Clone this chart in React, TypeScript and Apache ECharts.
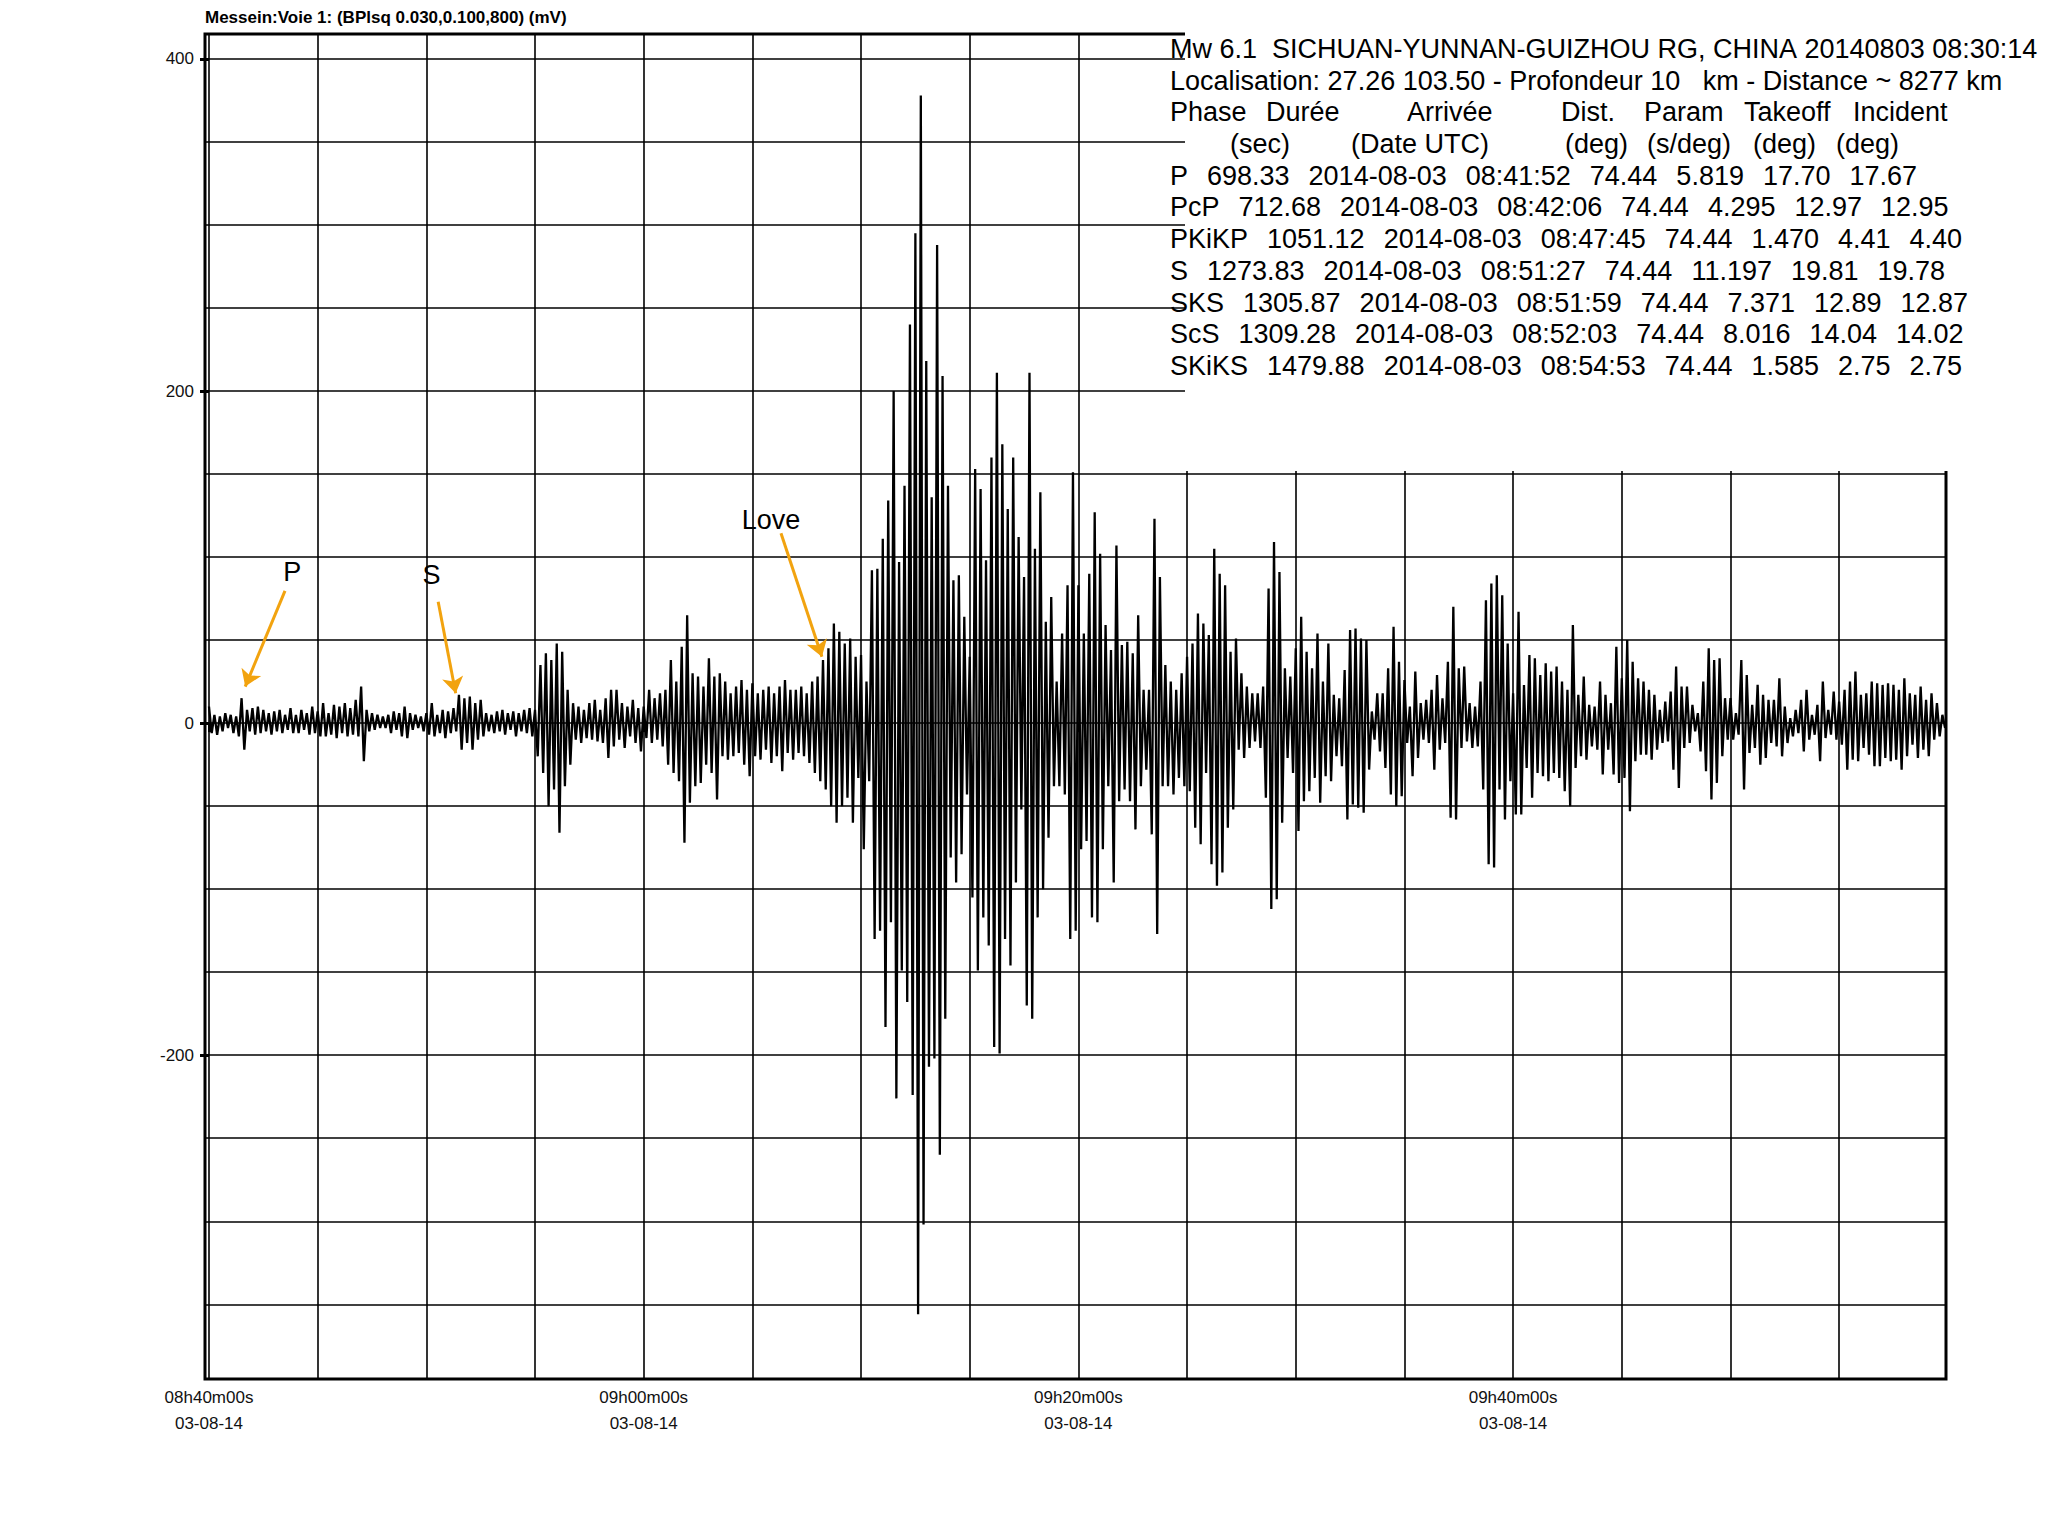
import React, { useEffect, useRef } from 'react';
import * as echarts from 'echarts';

// ---------- data ----------
const TITLE = 'Messein:Voie 1: (BPlsq 0.030,0.100,800) (mV)';

// seconds after 08:40:00 between two samples of the trace
const SAMPLE_STEP_S = 7.5;
// trace amplitude (mV), 8 samples per minute, one row per minute from 08:40
const TRACE = [
  10, -6, 5, -7, 4, -5, 6, -3,
  5, -6, 4, -8, 15, -16, 8, -5,
  9, -7, 10, -6, 8, -5, 6, -7,
  7, -5, 8, -6, 5, -4, 9, -6,
  5, -6, 8, -4, 6, -7, 10, -6,
  7, -8, 12, -8, 6, -7, 11, -9,
  10, -6, 12, -8, 9, -7, 14, -8,
  22, -23, 8, -5, 6, -4, 5, -3,
  4, -3, 5, -6, 7, -4, 6, -8,
  10, -9, 6, -4, 5, -3, 4, -5,
  6, -7, 12, -8, 5, -6, 8, -9,
  7, -6, 9, -5, 17, -16, 15, -12,
  16, -16, 12, -10, 14, -8, 6, -5,
  5, -6, 7, -5, 8, -7, 6, -4,
  7, -8, 6, -5, 8, -6, 9, -8,
  8, -20, 35, -30, 42, -50, 38, -40,
  48, -66, 43, -38, 20, -25, 12, -10,
  10, -12, 8, -9, 12, -10, 14, -11,
  8, -12, 15, -21, 20, -14, 20, -10,
  12, -15, 10, -8, 14, -12, 9, -17,
  10, -9, 20, -12, 15, -10, 18, -14,
  20, -25, 38, -30, 25, -35, 46, -72,
  65, -48, 30, -38, 28, -36, 22, -25,
  39, -30, 28, -46, 30, -20, 25, -22,
  18, -20, 22, -18, 26, -25, 20, -32,
  24, -20, 18, -22, 20, -16, 22, -24,
  18, -20, 22, -29, 26, -18, 20, -22,
  20, -18, 22, -20, 18, -24, 25, -30,
  28, -35, 38, -40, 45, -50, 60, -60,
  55, -50, 48, -45, 51, -60, 40, -33,
  41, -76, 25, -35, 92, -130, 93, -125,
  111, -183, 134, -120, 200, -226, 97, -149,
  143, -168, 240, -224, 295, -356, 378, -302,
  218, -207, 136, -202, 288, -260, 209, -178,
  143, -81, 86, -96, 89, -79, 64, -43,
  40, -105, 153, -149, 141, -117, 98, -134,
  160, -195, 211, -199, 168, -130, 129, -146,
  160, -96, 112, -52, 88, -170, 211, -178,
  105, -117, 139, -100, 61, -69, 76, -38,
  25, -38, 54, -43, 83, -130, 151, -125,
  83, -76, 54, -71, 90, -117, 127, -120,
  102, -76, 59, -38, 44, -96, 107, -47,
  47, -40, 49, -47, 42, -64, 65, -38,
  20, -28, 20, -67, 123, -127, 88, -38,
  35, -38, 25, -43, 20, -33, 30, -38,
  40, -41, 48, -63, 66, -73, 60, -30,
  53, -85, 105, -98, 90, -90, 83, -63,
  43, -52, 51, -16, 30, -21, 22, -15,
  18, -11, 18, -15, 22, -45, 81, -112,
  109, -106, 91, -60, 33, -21, 28, -30,
  45, -65, 64, -47, 43, -41, 33, -33,
  54, -48, 25, -32, 48, -35, 17, -20,
  15, -26, 32, -58, 56, -49, 57, -51,
  51, -54, 50, -28, 7, -10, 18, -17,
  18, -27, 33, -43, 58, -50, 37, -44,
  26, -12, 10, -32, 31, -21, 12, -10,
  14, -12, 20, -28, 29, -16, 15, -12,
  37, -57, 70, -58, 33, -15, 34, -11,
  12, -15, 10, -14, 25, -40, 74, -85,
  84, -87, 89, -40, 77, -58, 48, -35,
  18, -55, 67, -55, 23, -27, 41, -45,
  39, -30, 29, -32, 36, -35, 31, -30,
  34, -33, 25, -41, 20, -50, 59, -27,
  17, -20, 28, -22, 11, -14, 10, -16,
  25, -31, 17, -16, 12, -31, 46, -36,
  27, -33, 50, -53, 37, -23, 27, -19,
  25, -19, 20, -22, 17, -16, 8, -12,
  13, -11, 19, -28, 34, -39, 22, -15,
  22, -12, 11, -5, 6, -17, 25, -29,
  45, -46, 38, -36, 39, -20, 15, -10,
  15, -10, 6, -7, 38, -40, 29, -18,
  11, -15, 23, -25, 17, -21, 14, -12,
  14, -14, 27, -20, 10, -12, 3, -8,
  8, -6, 14, -17, 20, -10, 5, -7,
  11, -23, 25, -9, 8, -7, 19, -10,
  13, -13, 20, -28, 25, -22, 31, -23,
  17, -15, 18, -19, 25, -26, 24, -26,
  23, -21, 24, -23, 23, -22, 20, -28,
  27, -20, 18, -13, 17, -21, 22, -16,
  14, -20, 18, -10, 12, -8, 5, -3,
];

const X_MIN = -11;
const X_MAX = 4795;
const Y_MIN = -395;
const Y_MAX = 415;

const X_TICK_SECONDS = [0, 1200, 2400, 3600];
const X_TICK_LABELS = ['08h40m00s', '09h00m00s', '09h20m00s', '09h40m00s'];
const X_DATE_LABEL = '03-08-14';
const X_GRID_SECONDS = [0, 300, 600, 900, 1200, 1500, 1800, 2100, 2400, 2700, 3000, 3300, 3600, 3900, 4200, 4500];
const Y_TICK_VALUES = [-200, 0, 200, 400];
const Y_GRID_VALUES = [-350, -300, -250, -200, -150, -100, -50, 0, 50, 100, 150, 200, 250, 300, 350, 400];

const PHASE_NAMES = ['P', 'S', 'Love'];
const PHASE_LABEL_AT = [[229.7, 91.2], [614.2, 89.2], [1551.4, 122.3]];
const PHASE_ARROW_FROM = [[209.8, 79.6], [632.7, 73.1], [1579, 114.3]];
const PHASE_ARROW_TO = [[100, 22], [681, 18], [1692, 40]];

const INFO_LINE1 = 'Mw 6.1  SICHUAN-YUNNAN-GUIZHOU RG, CHINA 20140803 08:30:14';
const INFO_LINE2 = 'Localisation: 27.26 103.50 - Profondeur 10   km - Distance ~ 8277 km';
const HEADER1 = ['Phase', 'Durée', 'Arrivée', 'Dist.', 'Param', 'Takeoff', 'Incident'];
const HEADER2 = ['(sec)', '(Date UTC)', '(deg)', '(s/deg)', '(deg)', '(deg)'];
const PHASE_ROWS = [
  ['P', '698.33', '2014-08-03', '08:41:52', '74.44', '5.819', '17.70', '17.67'],
  ['PcP', '712.68', '2014-08-03', '08:42:06', '74.44', '4.295', '12.97', '12.95'],
  ['PKiKP', '1051.12', '2014-08-03', '08:47:45', '74.44', '1.470', '4.41', '4.40'],
  ['S', '1273.83', '2014-08-03', '08:51:27', '74.44', '11.197', '19.81', '19.78'],
  ['SKS', '1305.87', '2014-08-03', '08:51:59', '74.44', '7.371', '12.89', '12.87'],
  ['ScS', '1309.28', '2014-08-03', '08:52:03', '74.44', '8.016', '14.04', '14.02'],
  ['SKiKS', '1479.88', '2014-08-03', '08:54:53', '74.44', '1.585', '2.75', '2.75'],
];

// ---------- layout ----------
const W = 2048;
const H = 1533;
const GRID = { left: 205, top: 34, width: 1741, height: 1345 };
const INFO_X = 1170;
const INFO_BASE0 = 58.3;
const INFO_STEP = 31.7;
const INFO_FS = 27;
const TOKEN_GAP = 19;
const HEADER1_X = [1170, 1266, 1407, 1561, 1644, 1744, 1853];
const HEADER2_X = [1230, 1351, 1565, 1647, 1753, 1836];
const FONT = "'Liberation Sans', Arial, sans-serif";
const ORANGE = '#F2A30F';

const nb = (s: string) => s.replace(/ /g, '\u00a0');

function buildGraphic() {
  const canvas = document.createElement('canvas');
  const ctx = canvas.getContext('2d') as CanvasRenderingContext2D;
  ctx.font = `${INFO_FS}px ${FONT}`;
  const mid = (k: number) => INFO_BASE0 + INFO_STEP * k - 0.3465 * INFO_FS;
  const txt = (x: number, y: number, s: string) => ({
    type: 'text',
    x,
    y,
    z: 51,
    silent: true,
    style: {
      text: nb(s),
      fontSize: INFO_FS,
      fontFamily: FONT,
      fill: '#000',
      align: 'left',
      verticalAlign: 'middle',
    },
  });
  const els: any[] = [
    { type: 'rect', z: 50, silent: true, shape: { x: 1185, y: 0, width: W - 1185, height: 471 }, style: { fill: '#fff' } },
    txt(INFO_X, mid(0), INFO_LINE1),
    txt(INFO_X, mid(1), INFO_LINE2),
  ];
  HEADER1.forEach((s, i) => els.push(txt(HEADER1_X[i], mid(2), s)));
  HEADER2.forEach((s, i) => els.push(txt(HEADER2_X[i], mid(3), s)));
  PHASE_ROWS.forEach((row, r) => {
    let x = INFO_X;
    row.forEach((tok) => {
      els.push(txt(x, mid(4 + r), tok));
      x += ctx.measureText(tok).width + TOKEN_GAP;
    });
  });
  els.push({
    type: 'text',
    x: 205,
    y: 23.3 - 0.3465 * 17,
    z: 51,
    silent: true,
    style: {
      text: TITLE,
      fontSize: 17,
      fontWeight: 'bold',
      fontFamily: FONT,
      fill: '#000',
      align: 'left',
      verticalAlign: 'middle',
    },
  });
  return els;
}

export default function App() {
  const ref = useRef<HTMLDivElement>(null);
  useEffect(() => {
    if (!ref.current) return;
    const chart = echarts.init(ref.current, undefined, { renderer: 'svg' });
    const traceData = TRACE.map((v, i) => [i * SAMPLE_STEP_S, v]);
    const gridLines = [
      ...X_GRID_SECONDS.map((t) => ({ xAxis: t })),
      ...Y_GRID_VALUES.map((v) => ({ yAxis: v })),
    ];
    const option: any = {
      animation: false,
      backgroundColor: '#fff',
      grid: { ...GRID, show: true, borderColor: '#000', borderWidth: 3, backgroundColor: 'transparent', containLabel: false },
      xAxis: {
        type: 'value',
        min: X_MIN,
        max: X_MAX,
        axisLine: { show: false },
        splitLine: { show: false },
        axisTick: { show: true, customValues: X_TICK_SECONDS, length: 9, lineStyle: { color: '#000', width: 3 } },
        axisLabel: {
          customValues: X_TICK_SECONDS,
          margin: 5,
          fontSize: 17,
          fontFamily: FONT,
          color: '#111',
          lineHeight: 26,
          formatter: (val: number) => {
            const i = X_TICK_SECONDS.indexOf(val);
            return i < 0 ? '' : `${X_TICK_LABELS[i]}\n${X_DATE_LABEL}`;
          },
        },
      },
      yAxis: {
        type: 'value',
        min: Y_MIN,
        max: Y_MAX,
        axisLine: { show: false },
        splitLine: { show: false },
        axisTick: { show: true, customValues: Y_TICK_VALUES, length: 9, lineStyle: { color: '#000', width: 3 } },
        axisLabel: {
          customValues: Y_TICK_VALUES,
          margin: 11,
          fontSize: 17,
          fontFamily: FONT,
          color: '#111',
          padding: [0, 0, 8, 0],
        },
      },
      series: [
        {
          type: 'line',
          name: 'grid',
          data: [],
          z: 1,
          silent: true,
          markLine: {
            silent: true,
            animation: false,
            symbol: ['none', 'none'],
            label: { show: false },
            lineStyle: { color: '#000', width: 1.6, type: 'solid' },
            emphasis: { disabled: true },
            data: gridLines,
          },
        },
        {
          type: 'line',
          name: 'trace',
          data: traceData,
          z: 3,
          silent: true,
          showSymbol: false,
          symbol: 'none',
          lineStyle: { color: '#000', width: 2.3 },
        },
        {
          type: 'scatter',
          name: 'phases',
          z: 4,
          silent: true,
          symbolSize: 0,
          itemStyle: { opacity: 1, color: 'transparent' },
          data: PHASE_LABEL_AT.map((p, i) => ({ value: p, name: PHASE_NAMES[i] })),
          label: {
            show: true,
            position: 'inside',
            formatter: (p: any) => p.name,
            fontSize: 27,
            fontFamily: FONT,
            color: '#000',
            opacity: 1,
            textBorderWidth: 0,
            textBorderColor: 'transparent',
          },
          markLine: {
            silent: true,
            animation: false,
            symbol: ['none', 'arrow'],
            symbolSize: 16,
            label: { show: false },
            lineStyle: { color: ORANGE, width: 3, type: 'solid', opacity: 1 },
            itemStyle: { color: ORANGE },
            emphasis: { disabled: true },
            data: PHASE_ARROW_FROM.map((f, i) => [{ coord: f }, { coord: PHASE_ARROW_TO[i] }]),
          },
        },
      ],
      graphic: buildGraphic(),
    };
    chart.setOption(option);
    return () => chart.dispose();
  }, []);
  return (
    <div style={{ position: 'fixed', left: 0, top: 0, width: W, height: H, background: '#fff' }}>
      <div ref={ref} style={{ width: W, height: H }} />
    </div>
  );
}
